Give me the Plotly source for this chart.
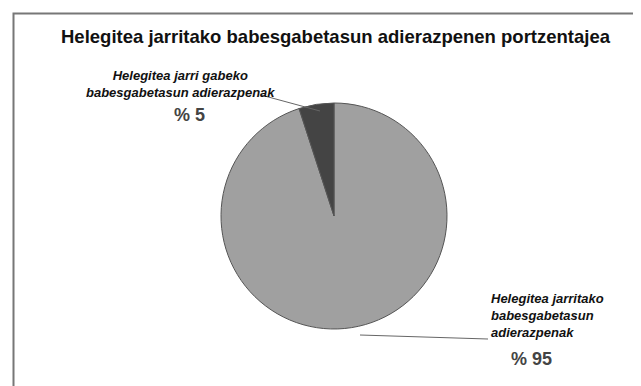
import plotly.graph_objects as go

title = "Helegitea jarritako babesgabetasun adierazpenen portzentajea"
labels = ["Helegitea jarritako babesgabetasun adierazpenak",
          "Helegitea jarri gabeko babesgabetasun adierazpenak"]
label_lines = [["Helegitea jarritako", "babesgabetasun", "adierazpenak"],
               ["Helegitea jarri gabeko", "babesgabetasun adierazpenak"]]
values = [95, 5]
colors = ["#a0a0a0", "#444444"]

W, H = 641, 386


def px(x):
    return x / W


def py(y):
    return 1 - y / H


fig = go.Figure(go.Pie(
    labels=labels,
    values=values,
    sort=False,
    direction="clockwise",
    rotation=0,
    marker=dict(colors=colors, line=dict(color="#555555", width=1)),
    textinfo="none",
    hoverinfo="label+percent",
    showlegend=False,
    domain=dict(x=[px(213), px(439)], y=[py(321), py(95)]),
))

FONT = "Liberation Sans, Arial, sans-serif"
lab_font = dict(family=FONT, size=13, color="#111111")
pct_font = dict(family=FONT, size=18, color="#444444")

# small slice label (top left)
fig.add_annotation(x=px(172), y=py(76), xref="paper", yref="paper",
                   text="<b><i>" + "<br>".join(label_lines[1]) + "</i></b>",
                   font=lab_font, showarrow=False, align="center",
                   xanchor="center", yanchor="middle")
fig.add_annotation(x=px(181), y=py(107), xref="paper", yref="paper",
                   text="<b>% " + str(values[1]) + "</b>",
                   font=pct_font, showarrow=False, xanchor="center", yanchor="middle")

# big slice label (bottom right)
fig.add_annotation(x=px(481), y=py(307), xref="paper", yref="paper",
                   text="<b><i>" + "<br>".join(label_lines[0]) + "</i></b>",
                   font=lab_font, showarrow=False, align="left",
                   xanchor="left", yanchor="middle")
fig.add_annotation(x=px(523), y=py(351), xref="paper", yref="paper",
                   text="<b>% " + str(values[0]) + "</b>",
                   font=pct_font, showarrow=False, xanchor="center", yanchor="middle")

# leader lines
fig.add_shape(type="line", xref="paper", yref="paper",
              x0=px(253), y0=py(87), x1=px(312), y1=py(103),
              line=dict(color="#666666", width=1))
fig.add_shape(type="line", xref="paper", yref="paper",
              x0=px(352), y0=py(327), x1=px(480), y1=py(331),
              line=dict(color="#666666", width=1))

# frame
fig.add_shape(type="rect", xref="paper", yref="paper",
              x0=px(5.5), y0=py(400), x1=px(660), y1=py(5.5),
              line=dict(color="#777777", width=2))

# title
fig.add_annotation(x=px(328), y=py(28), xref="paper", yref="paper",
                   text="<b>" + title + "</b>", showarrow=False,
                   xanchor="center", yanchor="middle",
                   font=dict(family=FONT, size=18.5, color="#111111"))

fig.update_layout(
    width=W, height=H,
    margin=dict(l=0, r=0, t=0, b=0),
    paper_bgcolor="white",
    plot_bgcolor="white",
)

fig.write_html("out.html")
